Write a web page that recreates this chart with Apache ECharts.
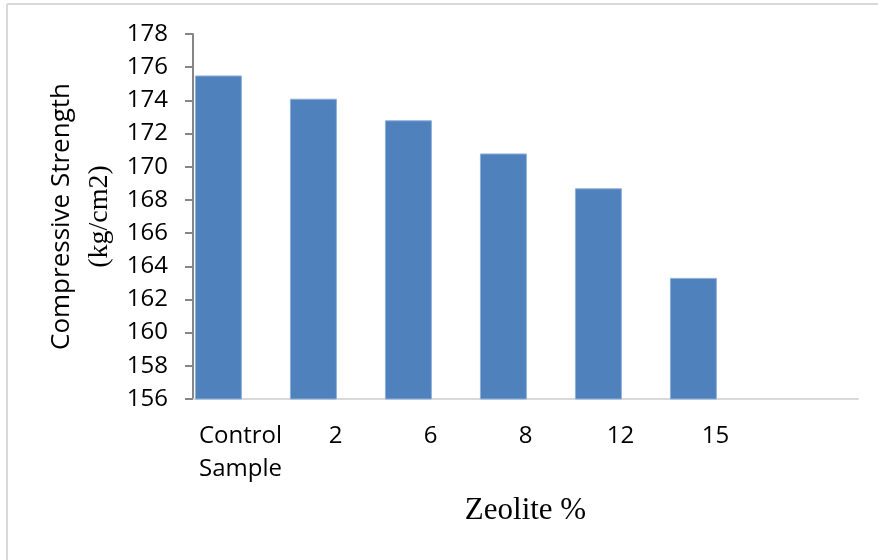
<!DOCTYPE html>
<html>
<head>
<meta charset="utf-8">
<script src="https://cdn.jsdelivr.net/npm/echarts@6/dist/echarts.min.js"></script>
<style>
  html, body { margin: 0; padding: 0; background: #fff; }
  #chart { width: 878px; height: 560px; }
</style>
</head>
<body>
<div id="chart"></div>
<script>
// zeolite replacement levels (last slot is empty in the original chart)
var categories = ['Control\nSample', '2', '6', '8', '12', '15', ''];
// compressive strength, kg/cm2
var strength = [175.5, 174.1, 172.8, 170.8, 168.7, 163.3, '-'];
var emptySeries = ['-', '-', '-', '-', '-', '-', '-'];

var yMin = 156, yMax = 178, yStep = 2;

var chart = echarts.init(document.getElementById('chart'), null, { renderer: 'canvas' });

var option = {
  animation: false,
  backgroundColor: '#fff',
  grid: { left: 193, right: 20, top: 34, bottom: 161 },
  graphic: [
    { type: 'line', shape: { x1: 7, y1: 4, x2: 878, y2: 4 }, style: { stroke: '#d9d9d9', lineWidth: 2 } },
    { type: 'line', shape: { x1: 7, y1: 4, x2: 7, y2: 560 }, style: { stroke: '#d9d9d9', lineWidth: 2 } }
  ],
  xAxis: {
    type: 'category',
    data: categories,
    boundaryGap: true,
    axisLine: { lineStyle: { color: '#d9d9d9', width: 2 } },
    axisTick: { show: false },
    axisLabel: {
      interval: 0,
      margin: 21,
      color: '#000',
      fontFamily: 'Open Sans',
      fontSize: 24,
      lineHeight: 33
    },
    name: 'Zeolite %',
    nameLocation: 'middle',
    nameGap: 96,
    nameTextStyle: {
      fontFamily: 'Liberation Serif',
      fontSize: 31,
      color: '#000',
      verticalAlign: 'top'
    }
  },
  yAxis: {
    type: 'value',
    min: yMin,
    max: yMax,
    interval: yStep,
    splitLine: { show: false },
    axisLine: { show: true, lineStyle: { color: '#868686', width: 2 } },
    axisTick: { show: true, inside: false, length: 8, lineStyle: { color: '#868686', width: 2 } },
    axisLabel: {
      margin: 25,
      color: '#000',
      fontFamily: 'Open Sans',
      fontSize: 24
    },
    name: '{a|Compressive Strength}\n{b|(kg/cm2)}',
    nameLocation: 'middle',
    nameGap: 74,
    nameTextStyle: {
      color: '#000',
      rich: {
        a: { fontFamily: 'Open Sans', fontSize: 26, lineHeight: 38, color: '#000' },
        b: { fontFamily: 'Liberation Serif', fontSize: 28, lineHeight: 38, color: '#000' }
      }
    }
  },
  series: [
    {
      type: 'bar',
      data: strength,
      barWidth: 47,
      barGap: '-6%',
      itemStyle: { color: '#4f81bd', borderColor: '#8eb0da', borderWidth: 1 }
    },
    {
      type: 'bar',
      data: emptySeries,
      barWidth: 47
    }
  ]
};

chart.setOption(option);
</script>
</body>
</html>
